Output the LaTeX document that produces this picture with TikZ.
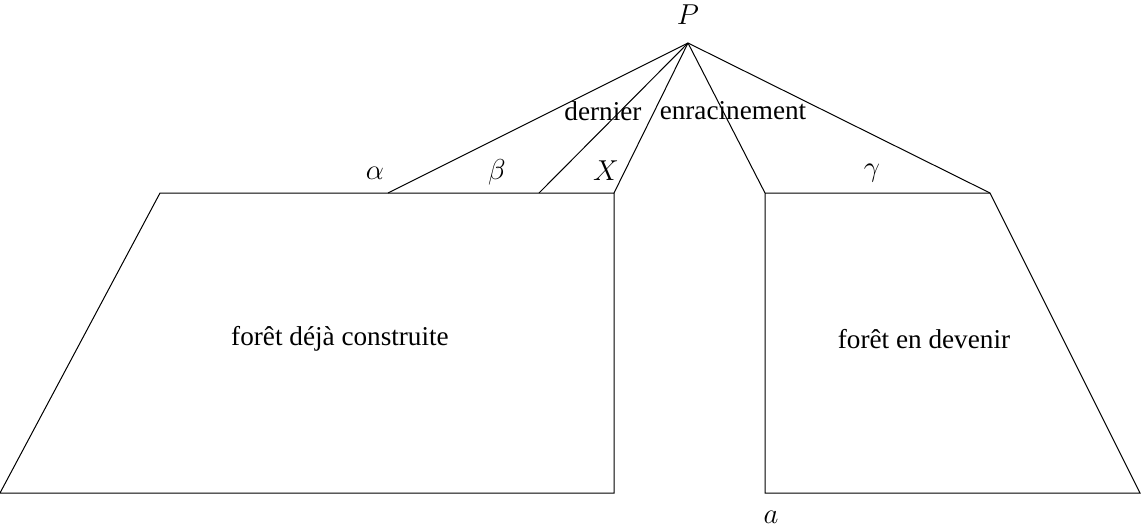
\documentclass[tikz,border=0pt]{standalone}
\usepackage[no-math]{fontspec}
\setmainfont{Liberation Serif}
\usepackage{tikz}
\tikzset{
    lbl/.style={inner sep=1pt, font=\fontsize{13.6}{16}\selectfont},
    edge/.style={line width=0.5pt}
}

\begin{document}
\begin{tikzpicture}[x=0.5pt,y=-0.5pt]
        \useasboundingbox (0,0) rectangle (1141,531);
        % sommet et points d'ancrage
        \coordinate (P) at (688,43);
        \coordinate (A1) at (388,193);
        \coordinate (B1) at (539,193);
        \coordinate (X1) at (614,193);
        \coordinate (R1) at (765,193);
        \coordinate (G1) at (990,193);
        % foret deja construite
        \draw[edge] (160,193) -- (X1) -- (614,493) -- (0,493) -- cycle;
        % foret en devenir
        \draw[edge] (R1) -- (G1) -- (1140,493) -- (765,493) -- cycle;
        % enracinements
        \foreach \q in {A1,B1,X1,R1,G1} \draw[edge] (P) -- (\q);
        \node[lbl] (p) at (688,15) {$P$};
        \node[lbl] (al) at (375,173) {$\alpha$};
        \node[lbl] (be) at (497,172) {$\beta$};
        \node[lbl] (xx) at (606,171) {$X$};
        \node[lbl] (ga) at (872,173) {$\gamma$};
        \node[lbl] (de) at (603,111) {dernier};
        \node[lbl] (en) at (733,111) {enracinement};
        \node[lbl] (fc) at (340,339) {forêt déjà construite};
        \node[lbl] (fd) at (924,339) {forêt en devenir};
        \node[lbl] (a) at (771,517) {$a$};
    \end{tikzpicture}
\end{document}
